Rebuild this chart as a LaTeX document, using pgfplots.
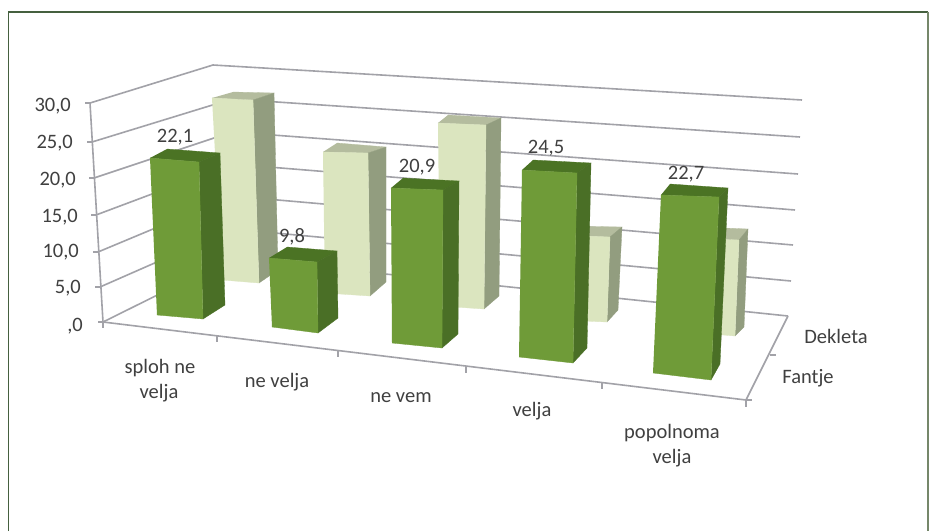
\documentclass[border=0pt]{standalone}
\usepackage{pgfplots}
\pgfplotsset{compat=1.18}
\usepackage{fontspec}
\setmainfont{Carlito}
\definecolor{gfront}{HTML}{6F9B38}
\definecolor{gside}{HTML}{4A6F26}
\definecolor{gtop}{HTML}{4B7324}
\definecolor{cfront}{HTML}{DBE5BF}
\definecolor{cside}{HTML}{929D7F}
\definecolor{ctop}{HTML}{B4BC9E}
\definecolor{gridc}{HTML}{A2A2A8}
\definecolor{txt}{HTML}{404040}
\definecolor{frameD}{HTML}{45603F}
\definecolor{frameR}{HTML}{75876A}
\newcommand{\poly}[2]{\addplot[fill=#1,draw=#1,line width=0.3pt] coordinates {#2};}
\newcommand{\gl}[1]{\addplot[draw=gridc,line width=1.6pt] coordinates {#1};}
\newcommand{\lab}[3]{\node[text=txt,font=\fontsize{20.5}{22}\selectfont,align=center,inner sep=0pt] at (axis cs:#1,#2) {#3};}
\newcommand{\tl}[3]{\node[text=txt,font=\fontsize{20.5}{22}\selectfont,anchor=east,inner sep=0pt] at (axis cs:#1,#2) {#3};}
\begin{document}
\begin{tikzpicture}
\begin{axis}[
  scale only axis, width=934pt, height=531pt,
  xmin=0, xmax=934, ymin=0, ymax=531, y dir=reverse,
  axis lines=none, clip=true]
% page background
\addplot[fill=white,draw=none] coordinates {(0,0)(934,0)(934,531)(0,531)};
% frame
\addplot[draw=frameD,line width=1.6pt] coordinates {(8.5,531)(8.5,12)(928,12)};
\addplot[draw=frameR,line width=2pt] coordinates {(928,12)(928,531)};
% gridlines: side wall then back wall, 30 down to 0
\gl{(90,103)(213,65)(802,100)}
\gl{(92,142)(232,99)(800,137)}
\gl{(94,178)(232,132)(798,174)}
\gl{(96,215)(232,164)(795,210)}
\gl{(98,252)(232,196)(793,245)}
\gl{(100,287)(232,229)(791,281)}
\gl{(103,322)(232,258)(788,316)}
% axes
\gl{(90,103)(103,322)(746,400)(788,316)}
% y ticks
\gl{(85,103)(90,103)}\gl{(87,142)(92,142)}\gl{(89,178)(94,178)}\gl{(91,215)(96,215)}
\gl{(93,252)(98,252)}\gl{(95,287)(100,287)}\gl{(98,322)(103,322)}
% x ticks
\gl{(103,322)(103,328)}\gl{(217,336)(217,342)}\gl{(338,351)(338,357)}
\gl{(466,367)(466,373)}\gl{(602,383)(602,389)}\gl{(746,400)(746,407)}
% depth ticks
\gl{(770,355)(776,355)}\gl{(746,400)(752,400)}
% Dekleta (back row)
\poly{ctop}{(212,98)(253,100)(274,93)(233,92)}
\poly{cside}{(253,100)(274,93)(278,270)(259,283)}
\poly{cfront}{(212,98)(253,100)(259,283)(222,280)}
\poly{ctop}{(323,152)(368,153)(386,147)(337,143)}
\poly{cside}{(368,153)(386,147)(386,282)(370,296)}
\poly{cfront}{(323,152)(368,153)(370,296)(325,293)}
\poly{ctop}{(438,123)(486,125)(501,118)(448,115)}
\poly{cside}{(486,125)(501,118)(499,296)(484,309)}
\poly{cfront}{(438,123)(486,125)(484,309)(440,306)}
\poly{ctop}{(560,235)(610,237)(622,227)(570,226)}
\poly{cside}{(610,237)(622,227)(618,310)(607,322)}
\poly{cfront}{(560,235)(610,237)(607,322)(560,320)}
\poly{ctop}{(700,238)(739,240)(748,229)(700,227)}
\poly{cside}{(739,240)(748,229)(744,327)(735,336)}
\poly{cfront}{(700,238)(739,240)(735,336)(700,333)}
% Fantje (front row): 22,1  9,8  20,9  24,5  22,7
\poly{gtop}{(150,158)(199,162)(220,153)(167,149)}
\poly{gside}{(199,162)(220,153)(225,305)(203,319)}
\poly{gfront}{(150,158)(199,162)(203,319)(157,315)}
\poly{gtop}{(269,258)(317,262)(337,251)(287,247)}
\poly{gside}{(317,262)(337,251)(338,318)(318,333)}
\poly{gfront}{(269,258)(317,262)(318,333)(272,327)}
\poly{gtop}{(391,188)(443,190)(459,181)(403,178)}
\poly{gside}{(443,190)(459,181)(458,334)(442,348)}
\poly{gfront}{(391,188)(443,190)(442,348)(392,343)}
\poly{gtop}{(522,170)(577,173)(591,163)(533,160)}
\poly{gside}{(577,173)(591,163)(587,348)(573,363)}
\poly{gfront}{(522,170)(577,173)(573,363)(519,357)}
\poly{gtop}{(661,195)(719,197)(728,188)(670,184)}
\poly{gside}{(719,197)(728,188)(720,364)(711,380)}
\poly{gfront}{(661,195)(719,197)(711,380)(653,373)}
% tick labels
\tl{71}{106}{30,0}\tl{73}{143}{25,0}\tl{76}{180}{20,0}\tl{78}{217}{15,0}
\tl{79}{252}{10,0}\tl{81}{288}{5,0}\tl{83}{326}{,0}
% value labels
\lab{175}{137}{22,1}\lab{292}{237}{9,8}\lab{417}{167}{20,9}\lab{546}{148}{24,5}\lab{686}{174}{22,7}
% category labels
\lab{160}{368}{sploh ne}\lab{159}{393}{velja}\lab{277}{382}{ne velja}\lab{401}{398}{ne vem}
\lab{532}{411}{velja}\lab{672}{433}{popolnoma}\lab{672}{458}{velja}
\lab{808}{378}{Fantje}\lab{836}{336}{Dekleta}
\end{axis}
\end{tikzpicture}
\end{document}
